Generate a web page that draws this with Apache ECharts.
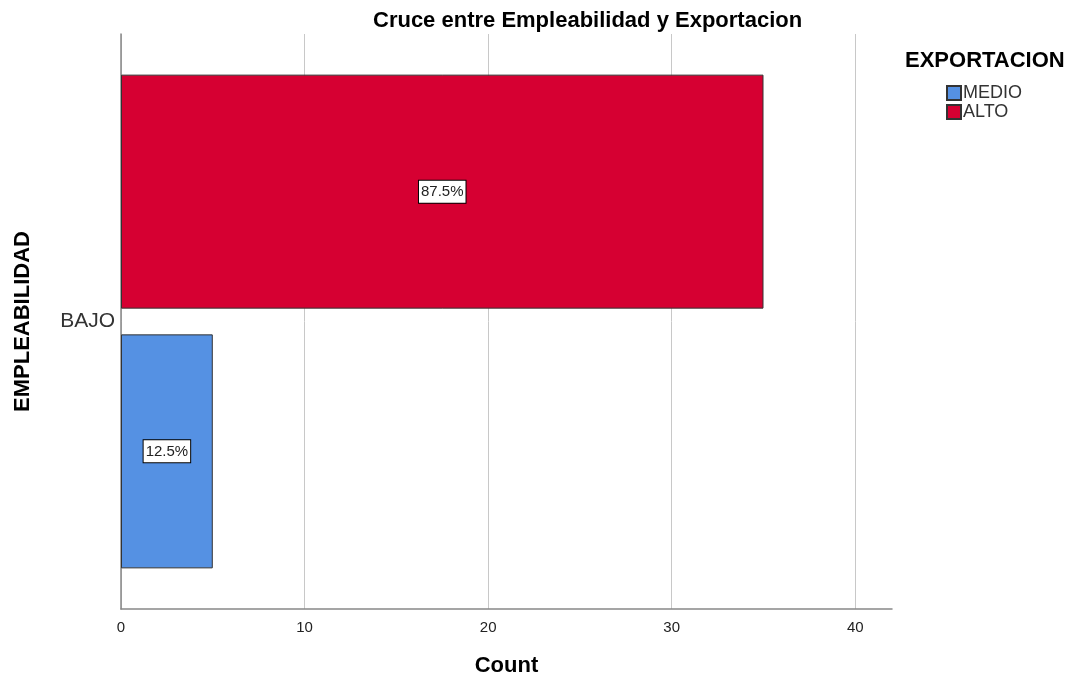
<!DOCTYPE html>
<html>
<head>
<meta charset="utf-8">
<script src="https://cdn.jsdelivr.net/npm/echarts@6/dist/echarts.min.js"></script>
<style>html,body{margin:0;padding:0;background:#fff}#c{width:1077px;height:682px}</style>
</head>
<body>
<div id="c"></div>
<script>
const categories = ['BAJO'];
const seriesNames = ['MEDIO', 'ALTO'];
const medioValues = [5];
const altoValues = [35];
const medioPct = ['12.5%'];
const altoPct = ['87.5%'];
const xTicks = [0, 10, 20, 30, 40];

const chart = echarts.init(document.getElementById('c'));
const font = 'Liberation Sans, Arial, sans-serif';
const labelStyle = (arr) => ({
  show: true,
  position: 'inside',
  formatter: p => arr[p.dataIndex],
  backgroundColor: '#fff',
  borderColor: '#000',
  borderWidth: 1,
  padding: [4, 2, 3, 2],
  color: '#222',
  fontSize: 15,
  fontFamily: font
});
chart.setOption({
  animation: false,
  title: [{
    text: 'Cruce entre Empleabilidad y Exportacion',
    left: 368, top: 5,
    textStyle: {fontSize: 22, fontWeight: 'bold', color: '#000', fontFamily: font}
  }, {
    text: 'EXPORTACION',
    left: 900, top: 45,
    textStyle: {fontSize: 22, fontWeight: 'bold', color: '#000', fontFamily: font}
  }],
  legend: {
    orient: 'vertical',
    left: 941, top: 79,
    itemWidth: 14, itemHeight: 14,
    itemGap: 1,
    icon: 'rect',
    data: seriesNames,
    textStyle: {fontSize: 18, color: '#333', fontFamily: font, padding: [0, 0, 0, -3]}
  },
  grid: {left: 121, right: 185, top: 34, bottom: 73, containLabel: false},
  xAxis: {
    type: 'value',
    min: 0, max: 42, interval: 10,
    name: 'Count',
    nameLocation: 'middle',
    nameGap: 46,
    nameTextStyle: {fontSize: 22, fontWeight: 'bold', color: '#000', fontFamily: font},
    axisLine: {show: true, lineStyle: {color: '#888', width: 1.5}},
    axisTick: {show: false},
    axisLabel: {
      fontSize: 15, color: '#222', fontFamily: font, margin: 11,
      formatter: v => xTicks.includes(v) ? String(v) : '',
      showMaxLabel: false
    },
    splitLine: {show: true, showMaxLine: false, lineStyle: {color: '#c8c8c8', width: 1}}
  },
  yAxis: {
    type: 'category',
    data: categories,
    name: 'EMPLEABILIDAD',
    nameLocation: 'middle',
    nameGap: 87,
    nameRotate: 90,
    nameTextStyle: {fontSize: 22, fontWeight: 'bold', color: '#000', fontFamily: font},
    axisLine: {show: true, lineStyle: {color: '#888', width: 1.5}},
    axisTick: {show: false},
    axisLabel: {fontSize: 21, color: '#333', fontFamily: font, margin: 6}
  },
  series: [{
    name: 'ALTO',
    type: 'bar',
    data: altoValues,
    barWidth: 234,
    barGap: '11%',
    itemStyle: {color: '#d60032', borderColor: '#333', borderWidth: 1},
    label: labelStyle(altoPct)
  }, {
    name: 'MEDIO',
    type: 'bar',
    data: medioValues,
    barWidth: 234,
    barGap: '11%',
    itemStyle: {color: '#5591e3', borderColor: '#333', borderWidth: 1},
    label: labelStyle(medioPct)
  }]
});
</script>
</body>
</html>
